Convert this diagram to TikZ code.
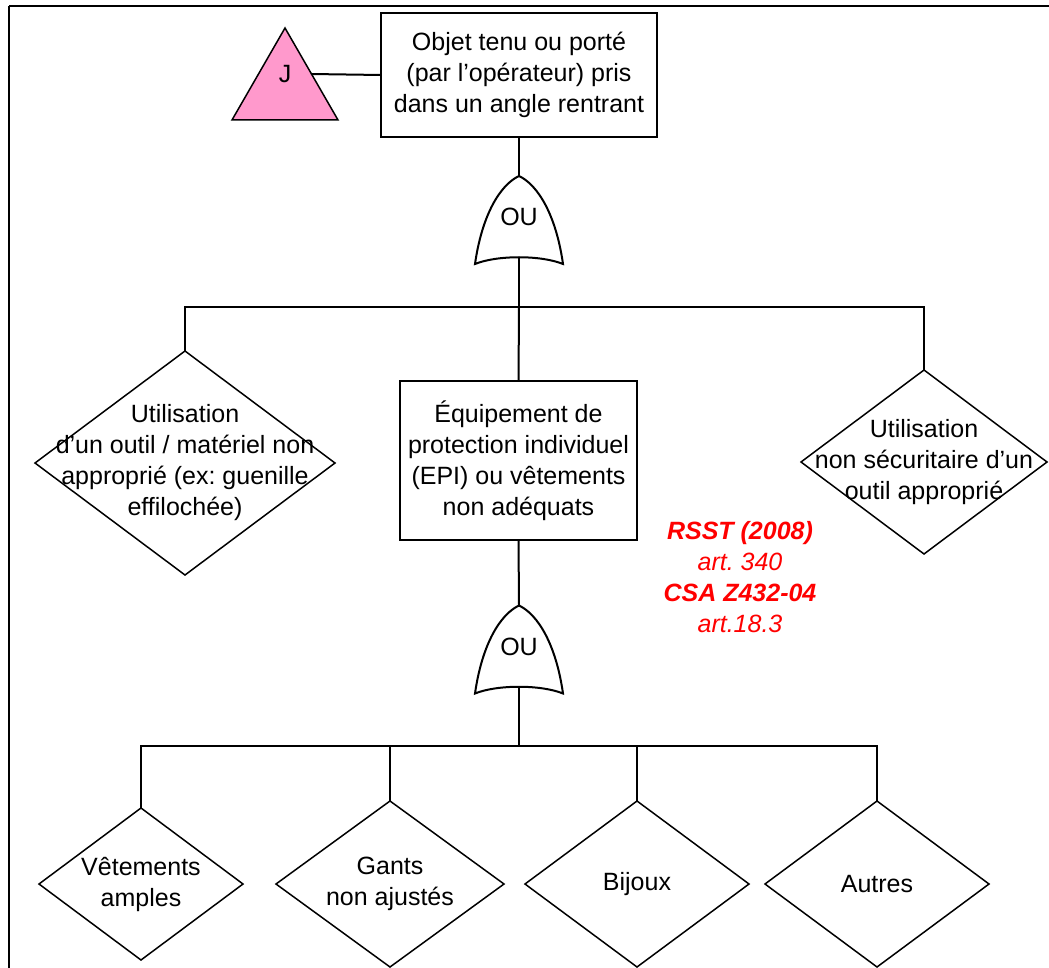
\documentclass[tikz,border=0pt]{standalone}
\usepackage{fontspec}
\setmainfont{Liberation Sans}
\usetikzlibrary{shapes.geometric}
\frenchspacing
\definecolor{jpink}{HTML}{FF99CC}
\definecolor{refred}{HTML}{FF0000}
\tikzset{
  ln/.style={line width=2pt, line join=miter},
  thin ln/.style={line width=1.5pt},
  txt/.style={align=center, font=\fontsize{25}{31}\selectfont\frenchspacing, inner sep=0pt},
  boxnode/.style={draw, ln, fill=white, inner sep=0pt, outer sep=0pt},
  dia/.style={draw, thin ln, diamond, inner sep=0pt, outer sep=0pt},
  redtxt/.style={txt, text=refred},
  orgate/.pic={
    \draw[ln, fill=white] (-44,44) .. controls (-37,-5) and (-19,-35) .. (0,-44)
      .. controls (19,-35) and (37,-5) .. (44,44)
      .. controls (22,35) and (-22,35) .. (-44,44) -- cycle;
    \coordinate (-top) at (0,-44);
    \coordinate (-bot) at (0,37);
    \node[txt] (-lbl) at (0,-3) {OU};
  }
}
\begin{document}
\begin{tikzpicture}[x=1pt,y=-1pt]
\useasboundingbox (0,0) rectangle (1049,968);
% frame
\coordinate (frTL) at (9,6);
\coordinate (frTR) at (1049,6);
\coordinate (frBL) at (9,968);
\draw[line width=2.8pt] (frTR) -- (frTL);
\draw[line width=2pt] (frTL) -- (frBL);

% top event
\node[boxnode, minimum width=276pt, minimum height=124pt] (top) at (519,75) {};
\node[txt] at (top) {Objet tenu ou porté\\(par l’opérateur) pris\\dans un angle rentrant};

% transfer triangle J
\coordinate (tA) at (285,28);
\coordinate (tL) at (232,120);
\coordinate (tR) at (338,120);
\draw[thin ln, fill=jpink] (tA) -- (tR) -- (tL) -- cycle;
\node[txt] (J) at (285,74) {J};
\coordinate (tJ) at (311,74);
\draw[ln] (tJ) -- (top.west);

% gate 1
\pic (g1) at (519,220) {orgate};
\draw[ln] (top.south) -- (g1-top);

% level 2
\node[dia, minimum width=300pt, minimum height=224pt] (d1) at (185,463) {};
\node[txt] at (d1) {Utilisation\\d’un outil / matériel non\\approprié (ex: guenille\\effilochée)};
\node[boxnode, minimum width=237pt, minimum height=159pt] (epi) at (518.5,460.5) {};
\node[txt] at (epi) {Équipement de\\protection individuel\\(EPI) ou vêtements\\non adéquats};
\node[dia, minimum width=246pt, minimum height=184pt] (d3) at (924,462) {};
\node[txt] at (d3) {Utilisation\\non sécuritaire d’un\\outil approprié};

\coordinate (bus1) at (519,307);
\draw[ln] (g1-bot) -- (bus1);
\draw[ln] (d1.north) |- (bus1) -| (d3.north);
\draw[ln] (bus1) -- (epi.north);

% regulation references
\node[redtxt] (refs) at (740,577) {\textbf{\textit{RSST (2008)}}\\\textit{art. 340}\\\textbf{\textit{CSA Z432-04}}\\\textit{art.18.3}};

% gate 2
\pic (g2) at (519,649.5) {orgate};
\draw[ln] (epi.south) -- (g2-top);

% level 3
\node[dia, minimum width=204pt, minimum height=152pt] (b1) at (141,884) {};
\node[txt] at (b1) {Vêtements\\amples};
\node[dia, minimum width=228pt, minimum height=166pt] (b2) at (390,884) {};
\node[txt] at (b2) {Gants\\non ajustés};
\node[dia, minimum width=224pt, minimum height=166pt] (b3) at (637,884) {};
\node[txt] at (b3) {Bijoux};
\node[dia, minimum width=224pt, minimum height=166pt] (b4) at (877,884) {};
\node[txt] at (b4) {Autres};

\coordinate (bus2) at (519,746);
\draw[line width=2.8pt] (g2-bot) -- (bus2);
\draw[ln] (b1.north) |- (bus2) -| (b4.north);
\draw[thin ln] (b2.north) -- (b2.north |- bus2);
\draw[thin ln] (b3.north) -- (b3.north |- bus2);
\end{tikzpicture}
\end{document}
